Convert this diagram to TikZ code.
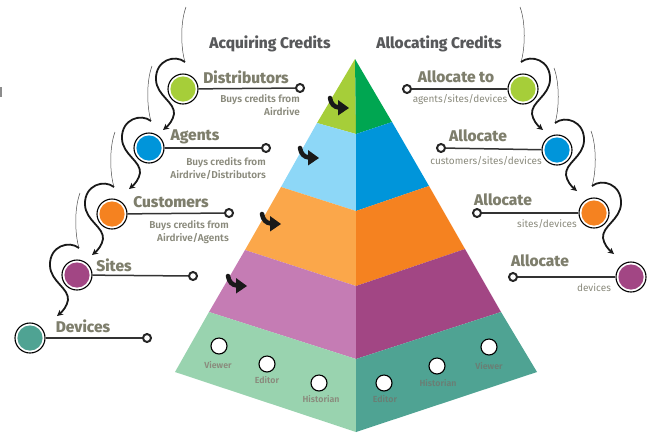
\documentclass[tikz,border=0pt]{standalone}
\usepackage{fontspec}
\setmainfont{Fira Sans}[BoldFont={Fira Sans ExtraBold}]
\newfontfamily\semib{Fira Sans}[UprightFont={Fira Sans SemiBold}]
\usetikzlibrary{arrows.meta}
\definecolor{gA}{HTML}{A6CE39}
\definecolor{gB}{HTML}{00A651}
\definecolor{bA}{HTML}{8DD7F7}
\definecolor{bB}{HTML}{0095DA}
\definecolor{oA}{HTML}{FBA74A}
\definecolor{oB}{HTML}{F58220}
\definecolor{pA}{HTML}{C57CB4}
\definecolor{pB}{HTML}{A24684}
\definecolor{tA}{HTML}{99D3AF}
\definecolor{tB}{HTML}{4FA393}
\definecolor{titlec}{HTML}{58595B}
\definecolor{labc}{HTML}{7E7E6C}
\definecolor{subc}{HTML}{8A8A7C}
\definecolor{rolec}{HTML}{6A7E74}
\begin{document}
\begin{tikzpicture}[x=1pt,y=-1pt,
  bigdot/.style={circle, draw=black, line width=1.1pt, fill=white, minimum size=30pt, inner sep=0pt,
     path picture={\fill[#1] (path picture bounding box.center) circle (12.6pt);}},
  enddot/.style={circle, draw=black!85, line width=2pt, fill=white, minimum size=8pt, inner sep=0pt},
  conn/.style={line width=1.5pt, draw=black!80},
  roledot/.style={circle, draw=black, line width=1.1pt, fill=white, minimum size=16pt, inner sep=0pt},
  titletext/.style={text=titlec, font=\fontsize{15.5}{17}\selectfont\bfseries},
  labtext/.style={text=labc, font=\fontsize{15.5}{17}\selectfont\bfseries},
  subtext/.style={text=subc, font=\fontsize{10}{12.8}\selectfont\semib, align=right, inner sep=0pt},
  rsubtext/.style={text=subc, font=\fontsize{10}{12}\selectfont, inner sep=0pt},
  roletext/.style={font=\fontsize{8.8}{10}\selectfont\semib, inner sep=0pt},
  thinl/.style={line width=0.5pt, draw=black!70},
  thickl/.style={line width=1.8pt, draw=black!90, -{Stealth[length=6pt,width=6pt]}},
  swirl/.pic={
    \draw[thinl] (3,-82) .. controls (-3,-66) and (-2,-40) .. (2,-27);
    \draw[thickl] (2,-27) .. controls (-8,-35) and (-28,-29) .. (-27,-9)
       .. controls (-26,7) and (-8,13) .. (-9,25)
       .. controls (-10,31) and (-14,36) .. (-20,41);
  },
  parrow/.pic={
    \draw[line width=4.5pt, black!90, line cap=round] (0,1) .. controls (1,7) and (4,10) .. (9,10.5);
    \fill[black!90] (8,3) -- (19,11) -- (8,18.5) -- cycle;
  }
]
\useasboundingbox (0,0) rectangle (655,432);
\fill[black!45] (0,87) rectangle (1.5,97);

% ---------- pyramid ----------
\coordinate (A) at (355,59);
\coordinate (L1) at (317,123); \coordinate (L2) at (281,187); \coordinate (L3) at (245,250);
\coordinate (L4) at (209,312); \coordinate (L5) at (175,372);
\coordinate (R1) at (392,122); \coordinate (R2) at (429,186); \coordinate (R3) at (465,249);
\coordinate (R4) at (501,312); \coordinate (R5) at (537,372);
\coordinate (C1) at (356,134); \coordinate (C2) at (356,211); \coordinate (C3) at (356,286);
\coordinate (C4) at (356,359); \coordinate (C5) at (356,432);
\fill[gA] (A) -- (L1) -- (C1) -- cycle;
\fill[gB] (A) -- (C1) -- (R1) -- cycle;
\fill[bA] (L1) -- (L2) -- (C2) -- (C1) -- cycle;
\fill[bB] (C1) -- (C2) -- (R2) -- (R1) -- cycle;
\fill[oA] (L2) -- (L3) -- (C3) -- (C2) -- cycle;
\fill[oB] (C2) -- (C3) -- (R3) -- (R2) -- cycle;
\fill[pA] (L3) -- (L4) -- (C4) -- (C3) -- cycle;
\fill[pB] (C3) -- (C4) -- (R4) -- (R3) -- cycle;
\fill[tA] (L4) -- (L5) -- (C5) -- (C4) -- cycle;
\fill[tB] (C4) -- (C5) -- (R5) -- (R4) -- cycle;

\pic at (330,97) {parrow};
\pic at (300,147) {parrow};
\pic at (262,213) {parrow};
\pic at (228,275) {parrow};

% roles
\node[roledot] (v1) at (219,346) {};
\node[roledot] (e1) at (267,364) {};
\node[roledot] (h1) at (319,383) {};
\node[roledot] (e2) at (384,383) {};
\node[roledot] (h2) at (437,366) {};
\node[roledot] (v2) at (489,347) {};
\node[roletext, text=subc] (v1t) at (218,365) {Viewer};
\node[roletext, text=subc] (e1t) at (267,380) {Editor};
\node[roletext, text=subc] (h1t) at (321,399) {Historian};
\node[roletext, text=rolec] (e2t) at (385,399) {Editor};
\node[roletext, text=rolec] (h2t) at (438,383) {Historian};
\node[roletext, text=rolec] (v2t) at (489,366) {Viewer};

% ---------- titles ----------
\node[titletext] (acq) at (270,44) {Acquiring Credits};
\node[titletext] (alloc) at (439,44) {Allocating Credits};

% ---------- left side ----------
\node[bigdot=gA] (dist) at (183,89) {};
\node[bigdot=bB] (agt) at (149,148) {};
\node[bigdot=oB] (cust) at (112,214) {};
\node[bigdot=pB] (site) at (77,275) {};
\node[bigdot=tB] (dev) at (30,338) {};
\node[enddot] (distE) at (300,88) {};
\node[enddot] (agtE) at (266,148) {};
\node[enddot] (custE) at (229,213) {};
\node[enddot] (siteE) at (193,276) {};
\node[enddot] (devE) at (147,338) {};
\draw[conn] (dist) -- (distE);
\draw[conn] (agt) -- (agtE);
\draw[conn] (cust) -- (custE);
\draw[conn] (site) -- (siteE);
\draw[conn] (dev) -- (devE);
\node[labtext] (distL) at (246,77) {Distributors};
\node[labtext] (agtL) at (195,137) {Agents};
\node[labtext] (custL) at (171,202) {Customers};
\node[labtext] (siteL) at (114,265) {Sites};
\node[labtext] (devL) at (83,326) {Devices};
\node[subtext, anchor=north east] (distS) at (300,94) {Buys credits from\\Airdrive};
\node[subtext, anchor=north east] (agtS) at (266,157) {Buys credits from\\Airdrive/Distributors};
\node[subtext, anchor=north east] (custS) at (229,220) {Buys credits from\\Airdrive/Agents};
\pic at (dist) {swirl};
\pic at (agt) {swirl};
\pic at (cust) {swirl};
\pic at (site) {swirl};

% ---------- right side ----------
\node[bigdot=gA] (rg) at (523,89) {};
\node[bigdot=bB] (rb) at (557,150) {};
\node[bigdot=oB] (ro) at (594,213) {};
\node[bigdot=pB] (rp) at (631,277) {};
\node[enddot] (rgE) at (407,89) {};
\node[enddot] (rbE) at (441,148) {};
\node[enddot] (roE) at (477,213) {};
\node[enddot] (rpE) at (513,277) {};
\draw[conn] (rg) -- (rgE);
\draw[conn] (rb) -- (rbE);
\draw[conn] (ro) -- (roE);
\draw[conn] (rp) -- (rpE);
\node[labtext] (rgL) at (456,77) {Allocate to};
\node[labtext] (rbL) at (478,136) {Allocate};
\node[labtext] (roL) at (503,200) {Allocate};
\node[labtext] (rpL) at (540,261) {Allocate};
\node[rsubtext] (rgS) at (460,100) {agents/sites/devices};
\node[rsubtext] (rbS) at (486,161) {customers/sites/devices};
\node[rsubtext] (roS) at (547,224) {sites/devices};
\node[rsubtext] (rpS) at (594,288) {devices};
\pic[xscale=-1] at (rg) {swirl};
\pic[xscale=-1] at (rb) {swirl};
\pic[xscale=-1] at (ro) {swirl};
\end{tikzpicture}
\end{document}
